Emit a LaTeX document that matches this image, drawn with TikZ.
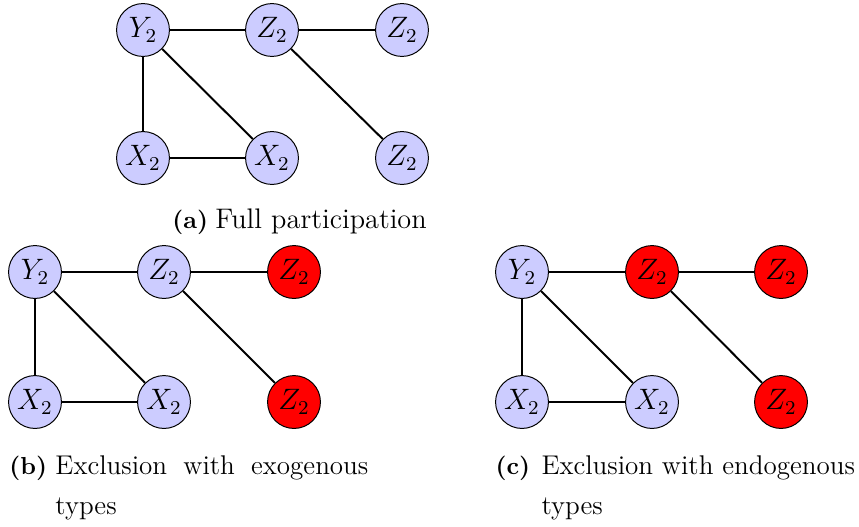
\documentclass[tikz,border=0pt]{standalone}
\usepackage{tikz}
\begin{document}
\begin{tikzpicture}[x=0.4065pt,y=-0.4065pt,
  vtx/.style={circle,draw=black,line width=0.4pt,fill=blue!20,minimum size=21.5pt,inner sep=0pt,font=\large},
  redvtx/.style={vtx,fill=red},
  edge/.style={line width=0.8pt},
  captxt/.style={anchor=base west,inner sep=0pt,font=\fontsize{11}{13}\selectfont},
  caplbl/.style={anchor=base west,inner sep=0pt,font=\normalsize\bfseries}]
\useasboundingbox (0,0) rectangle (859,526);
% (a)
\node[vtx] (aY) at (143,30) {$Y_2$};
\node[vtx] (aZ1) at (272,30) {$Z_2$};
\node[vtx] (aZ2) at (402,30) {$Z_2$};
\node[vtx] (aX1) at (143,158) {$X_2$};
\node[vtx] (aX2) at (272,158) {$X_2$};
\node[vtx] (aZ3) at (402,158) {$Z_2$};
\draw[edge] (aY) -- (aZ1);
\draw[edge] (aZ1) -- (aZ2);
\draw[edge] (aY) -- (aX1);
\draw[edge] (aY) -- (aX2);
\draw[edge] (aX1) -- (aX2);
\draw[edge] (aZ1) -- (aZ3);
\node[caplbl] (capa) at (172,228) {(a)};
\node[captxt,font=\fontsize{11.5}{13}\selectfont] (capa1) at (215,228) {Full participation};
% (b)
\node[vtx] (bY) at (35,272) {$Y_2$};
\node[vtx] (bZ1) at (164,272) {$Z_2$};
\node[redvtx] (bZ2) at (294,272) {$Z_2$};
\node[vtx] (bX1) at (35,402) {$X_2$};
\node[vtx] (bX2) at (164,402) {$X_2$};
\node[redvtx] (bZ3) at (294,402) {$Z_2$};
\draw[edge] (bY) -- (bZ1);
\draw[edge] (bZ1) -- (bZ2);
\draw[edge] (bY) -- (bX1);
\draw[edge] (bY) -- (bX2);
\draw[edge] (bX1) -- (bX2);
\draw[edge] (bZ1) -- (bZ3);
\node[caplbl] (capb) at (9,474) {(b)};
\node[captxt] (capb1) at (55,474) {\makebox[127.2pt][s]{Exclusion with exogenous}};
\node[captxt] (capb2) at (55,514) {types};
% (c)
\node[vtx] (cY) at (522,272) {$Y_2$};
\node[redvtx] (cZ1) at (652,272) {$Z_2$};
\node[redvtx] (cZ2) at (781,272) {$Z_2$};
\node[vtx] (cX1) at (522,402) {$X_2$};
\node[vtx] (cX2) at (652,402) {$X_2$};
\node[redvtx] (cZ3) at (781,402) {$Z_2$};
\draw[edge] (cY) -- (cZ1);
\draw[edge] (cZ1) -- (cZ2);
\draw[edge] (cY) -- (cX1);
\draw[edge] (cY) -- (cX2);
\draw[edge] (cX1) -- (cX2);
\draw[edge] (cZ1) -- (cZ3);
\node[caplbl] (capc) at (495,474) {(c)};
\node[captxt] (capc1) at (541,474) {Exclusion with endogenous};
\node[captxt] (capc2) at (541,514) {types};
\end{tikzpicture}
\end{document}
